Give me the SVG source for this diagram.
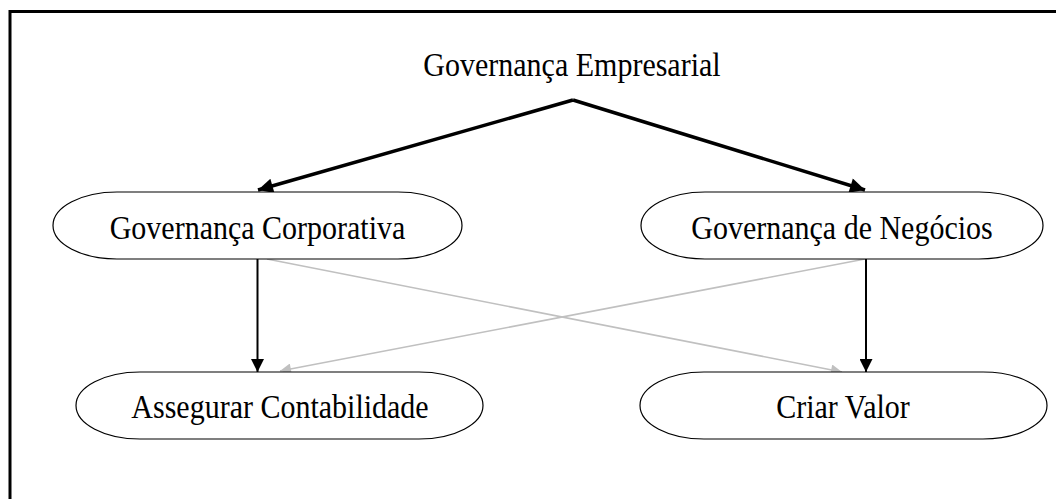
<svg xmlns="http://www.w3.org/2000/svg" width="1056" height="499" viewBox="0 0 1056 499">
<defs>
<style>
.lbl{font-family:"Liberation Serif","Times New Roman",serif;font-size:30px;fill:#000;text-anchor:middle}
.pill{fill:#fff;stroke:#000;stroke-width:1.2}
.thick{stroke:#000;stroke-width:3.5;fill:none}
.blk{stroke:#000;stroke-width:2;fill:none}
.gry{stroke:#c0c0c0;stroke-width:1.6;fill:none}
</style>
<marker id="ab" viewBox="0 0 10 10" refX="10" refY="5" markerWidth="20" markerHeight="15" markerUnits="userSpaceOnUse" orient="auto"><path d="M0,0 L10,5 L0,10 z" fill="#000"/></marker>
<marker id="ab2" viewBox="0 0 10 10" refX="10" refY="5" markerWidth="16" markerHeight="13" markerUnits="userSpaceOnUse" orient="auto"><path d="M0,0 L10,5 L0,10 z" fill="#000"/></marker>
<marker id="ag" viewBox="0 0 10 10" refX="10" refY="5" markerWidth="15" markerHeight="11" markerUnits="userSpaceOnUse" orient="auto"><path d="M0,0 L10,5 L0,10 z" fill="#c0c0c0"/></marker>
</defs>
<rect width="1056" height="499" fill="#fff"/>
<path d="M10,499 L10,11.5 L1056,11.5" fill="none" stroke="#000" stroke-width="3"/>
<g id="connectors">
<line class="thick" x1="573" y1="100" x2="258" y2="190" marker-end="url(#ab)"/>
<line class="thick" x1="573" y1="100" x2="865" y2="190" marker-end="url(#ab)"/>
<line class="gry" x1="267" y1="259" x2="842" y2="372" marker-end="url(#ag)"/>
<line class="gry" x1="865" y1="259" x2="280" y2="371" marker-end="url(#ag)"/>
<line class="blk" x1="257.5" y1="259" x2="257.5" y2="372" marker-end="url(#ab2)"/>
<line class="blk" x1="866" y1="259" x2="866" y2="372" marker-end="url(#ab2)"/>
</g>
<g id="n-empresarial"><text class="lbl" transform="translate(572,76) scale(1,1.12)">Governança Empresarial</text></g>
<g id="n-corporativa"><rect class="pill" x="53" y="192" width="409" height="67" rx="64" ry="33.5"/><text class="lbl" transform="translate(257.5,239) scale(1,1.12)">Governança Corporativa</text></g>
<g id="n-negocios"><rect class="pill" x="641" y="192" width="402" height="67" rx="64" ry="33.5"/><text class="lbl" transform="translate(842,239) scale(1,1.12)">Governança de Negócios</text></g>
<g id="n-contabilidade"><rect class="pill" x="76" y="372" width="407" height="67" rx="64" ry="33.5"/><text class="lbl" transform="translate(280,418) scale(1,1.12)">Assegurar Contabilidade</text></g>
<g id="n-valor"><rect class="pill" x="640" y="372" width="407" height="67" rx="64" ry="33.5"/><text class="lbl" transform="translate(843,418) scale(1,1.12)">Criar Valor</text></g>
</svg>
